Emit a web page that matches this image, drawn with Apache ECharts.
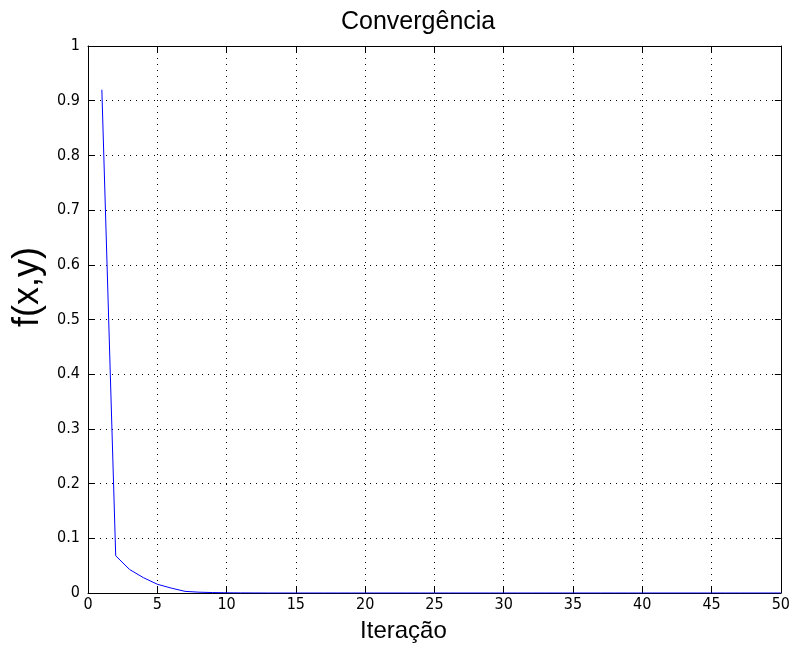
<!DOCTYPE html>
<html>
<head>
<meta charset="utf-8">
<script src="https://cdn.jsdelivr.net/npm/echarts@6/dist/echarts.min.js"></script>
<style>
html,body{margin:0;padding:0;background:#fff;}
#c{width:793px;height:648px;}
</style>
</head>
<body>
<div id="c"></div>
<script>
const iterations = [1,2,3,4,5,6,7,8,9,10,11,12,13,14,15,16,17,18,19,20,21,22,23,24,25,26,27,28,29,30,31,32,33,34,35,36,37,38,39,40,41,42,43,44,45,46,47,48,49,50];
const fValues = [0.92,0.068,0.043,0.028,0.016,0.009,0.003,0.0015,0.0008,0.0004,0.0002,0.0001,0,0,0,0,0,0,0,0,0,0,0,0,0,0,0,0,0,0,0,0,0,0,0,0,0,0,0,0,0,0,0,0,0,0,0,0,0,0];
const xTicks = [0,5,10,15,20,25,30,35,40,45,50];
const yTicks = [0,0.1,0.2,0.3,0.4,0.5,0.6,0.7,0.8,0.9,1];

const font = 'Liberation Sans, Arial, sans-serif';
const tickFont = '"Liberation Sans Narrow", "DejaVu Sans Condensed", "Liberation Sans", sans-serif';
const chart = echarts.init(document.getElementById('c'));
const data = iterations.map((x,i)=>[x,fValues[i]]);
const baseX = {
  type:'value', min:xTicks[0], max:xTicks[xTicks.length-1], interval:5,
  axisLine:{show:true,onZero:false,lineStyle:{color:'#000',width:1}},
  axisTick:{show:true,inside:true,length:6,lineStyle:{color:'#000'}},
};
const baseY = {
  type:'value', min:yTicks[0], max:yTicks[yTicks.length-1], interval:0.1,
  axisLine:{show:true,onZero:false,lineStyle:{color:'#000',width:1}},
  axisTick:{show:true,inside:true,length:6,lineStyle:{color:'#000'}},
};
chart.setOption({
  animation:false,
  backgroundColor:'#fff',
  title:{text:'Convergência',left:341,top:10,padding:0,
    textStyle:{fontFamily:font,fontSize:25,fontWeight:'normal',color:'#000'}},
  grid:{left:88,right:10,top:46,bottom:54},
  xAxis:[
    Object.assign({},baseX,{position:'bottom',
      name:'Iteração',nameLocation:'middle',nameGap:26,
      nameTextStyle:{fontFamily:font,fontSize:24,color:'#000',padding:[0,62,0,0]},
      axisLabel:{fontFamily:tickFont,fontSize:16,color:'#000',margin:4},
      splitLine:{show:true,lineStyle:{color:'#000',type:[1,5],width:1}}}),
    Object.assign({},baseX,{position:'top',axisLabel:{show:false},splitLine:{show:false}})
  ],
  yAxis:[
    Object.assign({},baseY,{position:'left',
      name:'f(x,y)',nameLocation:'middle',nameGap:42,
      nameTextStyle:{fontFamily:font,fontSize:36,color:'#000',padding:[0,0,0,65]},
      axisLabel:{fontFamily:tickFont,fontSize:16,color:'#000',margin:8,
        formatter:v=>String(Math.round(v*10)/10)},
      splitLine:{show:true,lineStyle:{color:'#000',type:[1,5],width:1}}}),
    Object.assign({},baseY,{position:'right',axisLabel:{show:false},splitLine:{show:false}})
  ],
  series:[{
    type:'line',data:data,showSymbol:false,symbol:'none',
    lineStyle:{color:'#0000ff',width:1},
    xAxisIndex:0,yAxisIndex:0
  }]
});
</script>
</body>
</html>
